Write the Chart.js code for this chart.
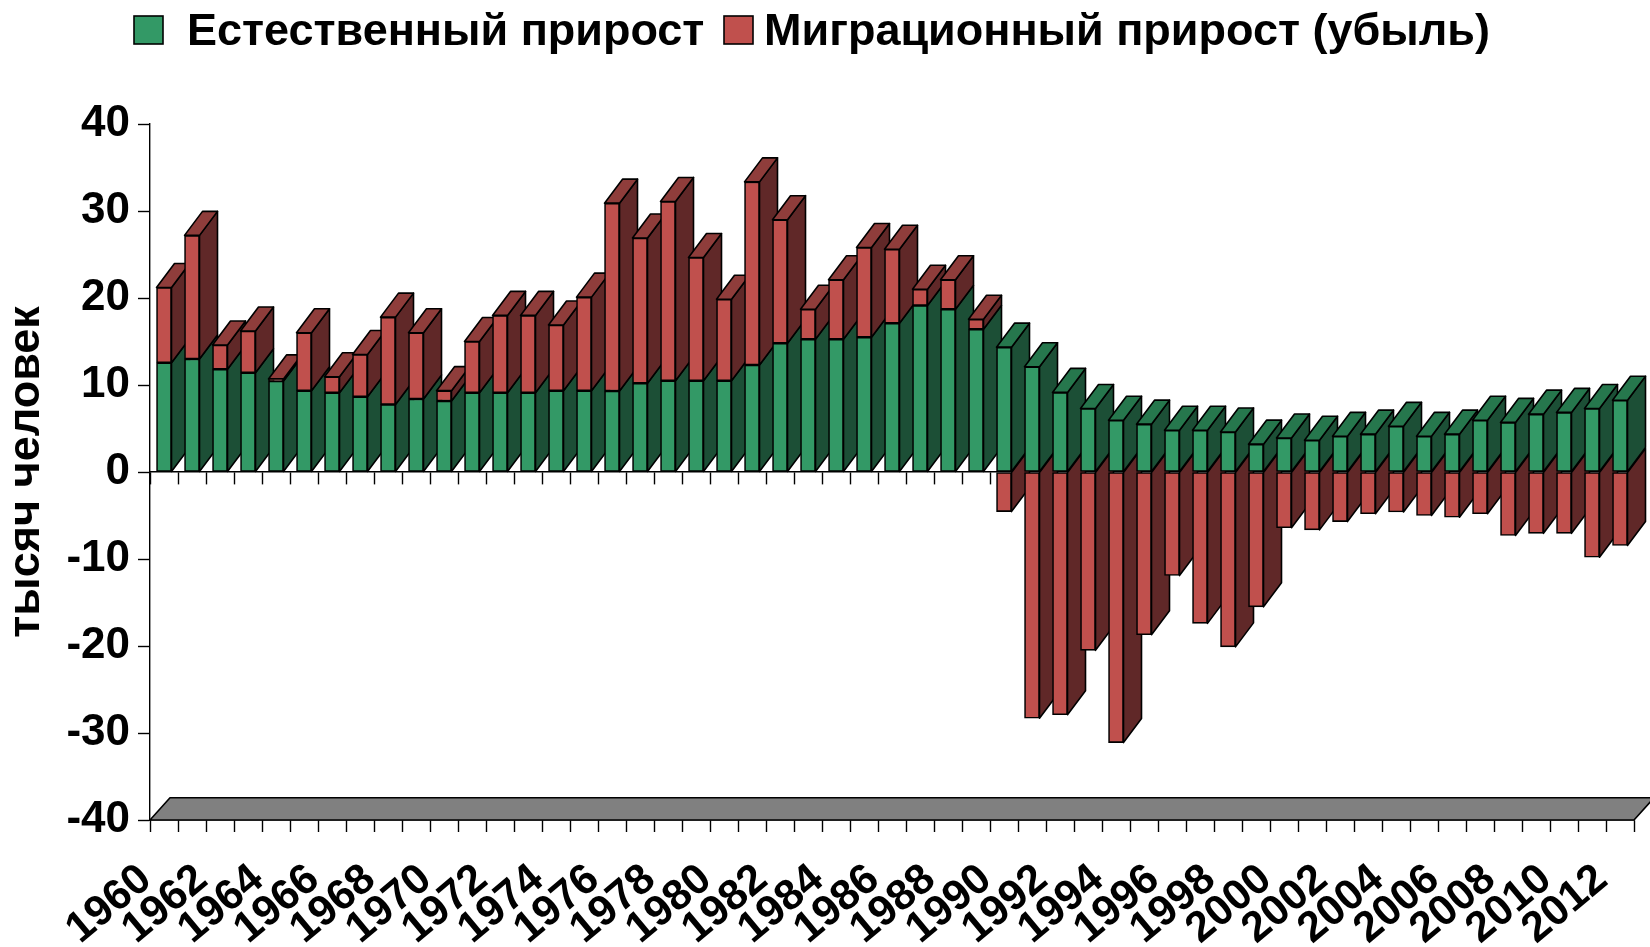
<!DOCTYPE html>
<html lang="ru">
<head>
<meta charset="utf-8">
<style>html,body{margin:0;padding:0;background:#fff}#wrap{width:1650px;height:947px;position:relative}</style>
<script src="https://cdn.jsdelivr.net/npm/chart.js@4"></script>
</head>
<body>
<div id="wrap"><canvas id="c" width="1650" height="947"></canvas></div>
<script>
const years = [];
for (let y = 1960; y <= 2012; y++) years.push(String(y));
const natural = [12.55,13.0,11.8,11.4,10.45,9.35,9.1,8.65,7.75,8.4,
  8.15,9.1,9.1,9.1,9.35,9.35,9.3,10.2,10.5,10.5,
  10.5,12.3,14.8,15.25,15.25,15.5,17.1,19.15,18.7,16.4,
  14.35,12.1,9.15,7.3,5.95,5.5,4.8,4.8,4.6,3.2,
  3.9,3.65,4.1,4.35,5.25,4.1,4.35,5.95,5.7,6.65,
  6.85,7.3,8.25];
const migration = [8.65,14.2,2.8,4.8,0.25,6.65,1.85,4.85,10.05,7.6,
  1.2,5.9,8.9,8.9,7.55,10.75,21.6,16.7,20.6,14.15,
  9.35,21.05,14.2,3.45,6.85,10.3,8.5,1.85,3.4,1.15,
  -4.55,-28.3,-27.9,-20.5,-31.1,-18.7,-11.9,-17.4,-20.1,-15.5,
  -6.4,-6.65,-5.7,-4.8,-4.6,-5.0,-5.2,-4.8,-7.3,-7.05,
  -7.05,-9.8,-8.45];
const naturalLabel = 'Естественный прирост';
const migrationLabel = 'Миграционный прирост (убыль)';
const yTitle = 'тысяч человек';

const FONT = '"Liberation Sans", Arial, sans-serif';
const GREEN = {front:'#339966', side:'#1C4F36', top:'#26774D'};
const RED = {front:'#C0504D', side:'#602828', top:'#8F3D3B'};
const DX = 18, DY = 24, LINE = 1.6;

function poly(ctx, pts, fill) {
  ctx.beginPath();
  pts.forEach((p, i) => i ? ctx.lineTo(p[0], p[1]) : ctx.moveTo(p[0], p[1]));
  ctx.closePath();
  ctx.fillStyle = fill;
  ctx.fill();
  ctx.stroke();
}

const depthPlugin = {
  id: 'depth',
  beforeDatasetsDraw(chart) {
    const ctx = chart.ctx, area = chart.chartArea;
    ctx.save();
    ctx.strokeStyle = '#000';
    ctx.lineWidth = LINE;
    ctx.lineJoin = 'round';
    const fd = 20, fh = area.bottom - chart.scales.y.getPixelForValue(-37.45);
    poly(ctx, [[area.left, area.bottom], [area.left + fd, area.bottom - fh],
               [area.right + fd, area.bottom - fh], [area.right, area.bottom]], '#808080');
    const m0 = chart.getDatasetMeta(0).data, m1 = chart.getDatasetMeta(1).data;
    m0.forEach((g, i) => {
      const r = m1[i];
      const faces = (el, col, withTop) => {
        const right = el.x + el.width / 2, left = el.x - el.width / 2;
        const a = Math.min(el.y, el.base), b = Math.max(el.y, el.base);
        poly(ctx, [[right, a], [right + DX, a - DY], [right + DX, b - DY], [right, b]], col.side);
        if (withTop) poly(ctx, [[left, a], [left + DX, a - DY], [right + DX, a - DY], [right, a]], col.top);
      };
      const redUp = migration[i] > 0;
      if (!redUp) faces(r, RED, false);
      faces(g, GREEN, !redUp);
      if (redUp) faces(r, RED, true);
    });
    ctx.restore();
  },
  afterDraw(chart) {
    const ctx = chart.ctx;
    ctx.save();
    const items = [
      {box: 134, text: 187, col: GREEN.front, label: chart.data.datasets[0].label},
      {box: 724, text: 764, col: RED.front, label: chart.data.datasets[1].label}
    ];
    items.forEach(it => {
      ctx.fillStyle = it.col;
      ctx.strokeStyle = '#000';
      ctx.lineWidth = 1.6;
      ctx.fillRect(it.box, 16, 29, 28);
      ctx.strokeRect(it.box, 16, 29, 28);
      ctx.fillStyle = '#000';
      ctx.font = 'bold 45px ' + FONT;
      ctx.textBaseline = 'alphabetic';
      ctx.textAlign = 'left';
      ctx.fillText(it.label, it.text, 45);
    });
    ctx.restore();
  }
};

new Chart(document.getElementById('c'), {
  type: 'bar',
  plugins: [depthPlugin],
  data: {
    labels: years,
    datasets: [
      {label: naturalLabel, data: natural, backgroundColor: GREEN.front, borderColor: '#000', borderWidth: LINE, borderSkipped: false, barThickness: 15},
      {label: migrationLabel, data: migration, backgroundColor: RED.front, borderColor: '#000', borderWidth: LINE, borderSkipped: false, barThickness: 15}
    ]
  },
  options: {
    responsive: false,
    animation: false,
    layout: {padding: {top: 124, left: 0, right: 16, bottom: 0}},
    plugins: {legend: {display: false}, tooltip: {enabled: false}},
    scales: {
      x: {
        type: 'category',
        stacked: true,
        offset: true,
        position: 'bottom',
        grid: {offset: true, drawOnChartArea: false, color: '#000', tickColor: '#000', tickLength: 12, tickWidth: 1.4},
        border: {color: '#000', width: 1.4},
        ticks: {
          color: '#000', autoSkip: false, maxRotation: 40, minRotation: 40, padding: 22, labelOffset: -18,
          font: {family: FONT, weight: 'bold', size: 43},
          callback(v, i) { return i % 2 === 0 ? years[i] : ''; }
        },
        afterFit(s) { s.height = 127; s.paddingLeft = 0; s.paddingRight = 0; }
      },
      x0: {
        type: 'category',
        axis: 'x',
        labels: years,
        offset: true,
        position: {y: 0},
        z: 1,
        grid: {offset: true, drawOnChartArea: false, color: '#000', tickColor: '#000', tickLength: 12, tickWidth: 1.4},
        border: {color: '#000', width: 1.4},
        ticks: {display: false}
      },
      y: {
        stacked: true,
        min: -40,
        max: 40,
        grid: {drawOnChartArea: false, color: '#000', tickColor: '#000', tickLength: 12, tickWidth: 1.4},
        border: {color: '#000', width: 1.4},
        ticks: {color: '#000', stepSize: 10, padding: 8, font: {family: FONT, weight: 'bold', size: 44}},
        title: {display: true, text: yTitle, color: '#000', padding: {top: 0, bottom: 0}, font: {family: FONT, weight: 'bold', size: 45}},
        afterFit(s) { s.width = 150; s.paddingTop = 0; s.paddingBottom = 0; }
      }
    }
  }
});
</script>
</body>
</html>
